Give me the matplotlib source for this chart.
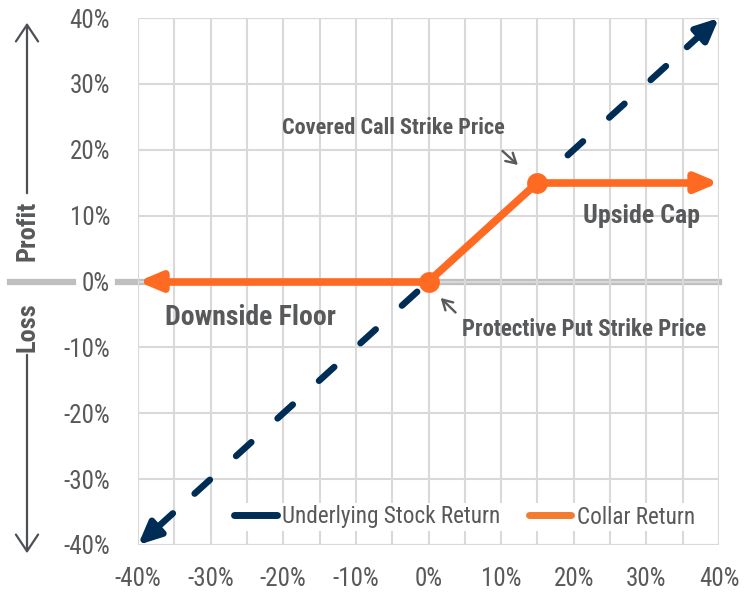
import matplotlib
matplotlib.use("Agg")
import matplotlib.pyplot as plt
from matplotlib import font_manager as fm
from matplotlib.lines import Line2D
from matplotlib.patches import FancyArrowPatch

fonts = fm.fontManager.ttflist
names = {f.name for f in fonts}
FAMILY, STRETCH = "DejaVu Sans", "normal"
for n in ["Roboto Condensed", "Open Sans Condensed", "Liberation Sans Narrow", "Arial Narrow"]:
    if n in names:
        FAMILY = n
        break
else:
    for pref in ["Open Sans", "Roboto", "Noto Sans", "DejaVu Sans"]:
        hit = [f for f in fonts if f.name == pref and f.stretch in ("condensed", "semi-condensed", "extra-condensed")]
        if hit:
            FAMILY, STRETCH = pref, hit[0].stretch
            break
plt.rcParams['font.family'] = [FAMILY, 'DejaVu Sans']
plt.rcParams['font.stretch'] = STRETCH

# data
stock_x = [-40, 40]
stock_y = [-40, 40]
collar_x = [-40, 0, 15, 40]
collar_y = [0, 0, 15, 15]
strike_x = [0, 15]
strike_y = [0, 15]
ticks = [-40, -30, -20, -10, 0, 10, 20, 30, 40]
tick_labels = ["-40%", "-30%", "-20%", "-10%", "0%", "10%", "20%", "30%", "40%"]

NAVY = "#002d56"
ORANGE = "#ff6a22"
TXT = "#58595b"
GRID = "#d9d9d9"
ZERO = "#bfbfbf"

fig = plt.figure(figsize=(7.56, 5.97), dpi=100)
ax = fig.add_axes([138/756, 1-545/597, (719-138)/756, (545-18)/597])
ax.set_xlim(-40, 40)
ax.set_ylim(-40, 40)

ax.set_xticks(ticks)
ax.set_xticklabels(tick_labels)
ax.set_yticks(ticks)
ax.set_yticklabels(tick_labels)
ax.set_xticks(range(-35, 40, 10), minor=True)
ax.tick_params(axis='both', which='both', length=0, labelsize=18, labelcolor=TXT)
ax.tick_params(axis='x', pad=16)
ax.tick_params(axis='y', pad=20)
ax.grid(True, which='major', color=GRID, lw=1.5, zorder=0)
ax.grid(True, which='minor', axis='x', color=GRID, lw=1.5, zorder=0)
for s in ax.spines.values():
    s.set_visible(False)
for v in (-40, 40):
    ax.axvline(v, color=GRID, lw=1.5, zorder=0)
    ax.axhline(v, color=GRID, lw=1.5, zorder=0)

# zero line extended left of the axes
ax.plot([-42.8, 40], [0, 0], color=ZERO, lw=4.5, clip_on=False, zorder=1)
ax.plot([-57.6, -49.0], [0, 0], color=ZERO, lw=4.5, clip_on=False, zorder=1)

# underlying stock (dashed with arrowheads)
LW_S = 4.7
ax.plot([stock_x[0] + 7.8, stock_x[1] - 7.0], [stock_y[0] + 7.8, stock_y[1] - 7.0], color=NAVY, lw=LW_S,
        dashes=(14.8 / LW_S, 25.5 / LW_S), dash_capstyle='round', zorder=3)
for (x0, y0), (x1, y1) in [((stock_x[0] + 4.8, stock_y[0] + 4.8), (stock_x[0], stock_y[0])),
                           ((stock_x[1] - 4.4, stock_y[1] - 4.4), (stock_x[1], stock_y[1]))]:
    ax.annotate("", xy=(x1, y1), xytext=(x0, y0),
                arrowprops=dict(arrowstyle="-|>,head_length=1.35,head_width=0.62",
                                color=NAVY, lw=LW_S, shrinkA=0, shrinkB=0, capstyle='round'),
                annotation_clip=False, zorder=3)

# collar
LW_C = 5.5
ax.plot(collar_x[1:-1], collar_y[1:-1], color=ORANGE, lw=LW_C, solid_capstyle='round', zorder=4)
ax.plot([collar_x[0] + 3, collar_x[1]], [collar_y[0], collar_y[1]], color=ORANGE, lw=LW_C, zorder=4)
ax.plot([collar_x[2], collar_x[3] - 3], [collar_y[2], collar_y[3]], color=ORANGE, lw=LW_C, zorder=4)
ax.annotate("", xy=(collar_x[0], collar_y[0]), xytext=(collar_x[0] + 4.0, collar_y[0]),
            arrowprops=dict(arrowstyle="-|>,head_length=1.3,head_width=0.55",
                            color=ORANGE, lw=LW_C, shrinkA=0, shrinkB=0), zorder=4)
ax.annotate("", xy=(collar_x[-1], collar_y[-1]), xytext=(collar_x[-1] - 4.0, collar_y[-1]),
            arrowprops=dict(arrowstyle="-|>,head_length=1.3,head_width=0.55",
                            color=ORANGE, lw=LW_C, shrinkA=0, shrinkB=0),
            annotation_clip=False, zorder=4)
ax.scatter(strike_x, strike_y, s=225, color=ORANGE, zorder=5, linewidths=0)

# annotations
ax.text(10.55, 23.3, "Covered Call Strike Price", fontsize=16, fontweight='bold',
        color=TXT, ha='right', va='center')
ax.annotate("", xy=(12.6, 17.4), xytext=(9.9, 20.1),
            arrowprops=dict(arrowstyle="->,head_length=0.7,head_width=0.4", color=TXT, lw=1.7))
ax.text(4.6, -7.36, "Protective Put Strike Price", fontsize=16.5, fontweight='bold',
        color=TXT, ha='left', va='center')
ax.annotate("", xy=(1.4, -2.2), xytext=(4.0, -5.0),
            arrowprops=dict(arrowstyle="->,head_length=0.7,head_width=0.4", color=TXT, lw=1.7))
ax.text(37.4, 9.94, "Upside Cap", fontsize=18.6, fontweight='bold',
        color=TXT, ha='right', va='center')
ax.text(-36.3, -5.5, "Downside Floor", fontsize=20, fontweight='bold',
        color=TXT, ha='left', va='center')

handles = [Line2D([], [], color=NAVY, lw=5, solid_capstyle='round'),
           Line2D([], [], color="#f47a30", lw=5, solid_capstyle='round')]
leg = ax.legend(handles, ["Underlying Stock Return", "Collar Return"],
                loc='center right', bbox_to_anchor=((697 - 138) / 581, (545 - 517) / 527), ncol=2,
                frameon=True, fontsize=16.7, handlelength=1.85, columnspacing=1.2,
                handletextpad=0.22, borderpad=0.1, borderaxespad=0)
leg.get_frame().set_edgecolor('none')
leg.get_frame().set_facecolor('white')
leg.get_frame().set_alpha(1)
leg.get_frame().set_boxstyle('square', pad=0)
for t in leg.get_texts():
    t.set_color(TXT)

# Profit / Loss indicators on the left (figure pixel coordinates)
def fp(x, y):
    return (x / 756, 1 - y / 597)

fig.add_artist(FancyArrowPatch(fp(27, 196), fp(27, 20),
               arrowstyle="->,head_length=6,head_width=4", color="#4d5055", lw=1.6,
               transform=fig.transFigure, mutation_scale=2))
fig.add_artist(FancyArrowPatch(fp(27, 352), fp(27, 556),
               arrowstyle="->,head_length=6,head_width=4", color="#4d5055", lw=1.6,
               transform=fig.transFigure, mutation_scale=2))
fig.text(*fp(28, 231), "Profit", rotation=90, fontsize=19, fontweight='bold',
         color=TXT, ha='center', va='center')
fig.text(*fp(28, 327), "Loss", rotation=90, fontsize=19, fontweight='bold',
         color=TXT, ha='center', va='center')

fig.savefig("out.png", dpi=100)
